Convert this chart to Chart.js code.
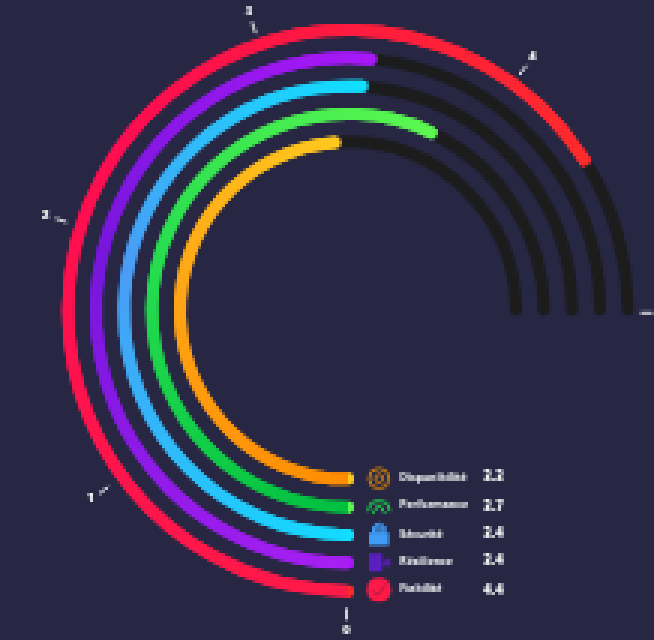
<!DOCTYPE html>
<html><head><meta charset="utf-8">
<style>html,body{margin:0;padding:0;background:#272643}body{width:654px;height:640px;overflow:hidden}
#w{position:absolute;left:0;top:0;width:654px;height:640px}
canvas{image-rendering:pixelated}</style>
<script src="https://cdn.jsdelivr.net/npm/chart.js@4"></script>
</head><body><div id="w"><canvas id="c"></canvas></div>
<script>
const categories = ["Fiabilité","Résilience","Sécurité","Performance","Disponibilité"];
const fillValues = [4.4,3.43,3.4,3.8,3.25];
const shownValues = ["4.4","3.4","3.4","3.7","3.3"];
const tickLabels = ["0","1","2","3","4","5"];
const axisMax = 5;
const sweep = 270;
const gradients = [
 ["#ff1a48","#ff0d50","#ff2b2b"],
 ["#a81ff4","#7716dc","#a818f8"],
 ["#12dcff","#4a9cf5","#10e0ff"],
 ["#00c040","#2adf50","#5cf850"],
 ["#ff8c00","#ffa515","#ffc81e"]
];
const iconColors = ["#ff1a48","#5b1fc0","#3f9bf5","#1fc24a","#c07a10"];
const track = "#1c1c1c";
const ringW = 12, gapW = 16, ink = "#ffffff";
const cx0 = 348, rOuter = 286;

function capDeg(i){ const r = rOuter - ringW/2 - i*(ringW+gapW); return (ringW/2/r)*180/Math.PI; }
const datasets = [];
categories.forEach((c,i)=>{
  const cap = capDeg(i), capUnits = 2*cap/(sweep/axisMax);
  const g = gradients[i];
  datasets.push({
    label:c,
    data:[fillValues[i]+capUnits, axisMax-fillValues[i]],
    rotation:180-cap,
    circumference:sweep+2*cap,
    weight:ringW,
    borderWidth:0,
    borderRadius:[ {outerStart:ringW/2,innerStart:ringW/2,outerEnd:ringW/2,innerEnd:ringW/2},
                   {outerStart:0,innerStart:0,outerEnd:ringW/2,innerEnd:ringW/2} ],
    backgroundColor(ctx){
      if(ctx.dataIndex===1) return track;
      const ch=ctx.chart, a=ch.chartArea; if(!a) return g[0];
      const x=(a.left+a.right)/2,y=(a.top+a.bottom)/2;
      const span=(fillValues[i]*sweep/axisMax)/360;
      const gr=ch.ctx.createConicGradient(Math.PI/2,x,y);
      gr.addColorStop(0,g[0]);gr.addColorStop(span*0.55,g[1]);gr.addColorStop(span,g[2]);gr.addColorStop(1,g[2]);
      return gr;
    }
  });
  if(i<categories.length-1) datasets.push({data:[1],weight:gapW,backgroundColor:"transparent",borderWidth:0,spacer:true});
});

function icon(ctx,i,x,y){
  ctx.save();ctx.fillStyle=iconColors[i];ctx.strokeStyle=iconColors[i];ctx.lineWidth=2.5;
  if(i===0){ctx.beginPath();ctx.arc(x,y-1,12,0,7);ctx.fill();ctx.strokeStyle="#a01840";ctx.lineWidth=2;ctx.beginPath();ctx.moveTo(x-6,y);ctx.lineTo(x-2,y+5);ctx.lineTo(x+7,y-6);ctx.stroke();}
  if(i===1){ctx.fillRect(x-10,y-9,13,18);ctx.fillRect(x+3,y-1.5,9,3);ctx.fillRect(x+7,y-4,3,8);}
  if(i===2){ctx.fillRect(x-10,y-2,20,13);ctx.lineWidth=3;ctx.beginPath();ctx.arc(x,y-5,5.5,Math.PI,0);ctx.stroke();ctx.strokeRect(x-5.5,y-6,11,4);}
  if(i===3){ctx.lineWidth=3;ctx.beginPath();ctx.arc(x,y+5,11,Math.PI,0);ctx.stroke();ctx.beginPath();ctx.moveTo(x-6,y+7);ctx.lineTo(x,y-2);ctx.lineTo(x+6,y+7);ctx.stroke();}
  if(i===4){ctx.lineWidth=3;ctx.beginPath();ctx.arc(x,y,10,0,7);ctx.stroke();ctx.beginPath();ctx.arc(x,y,4,0,7);ctx.stroke();}
  ctx.restore();
}

const overlay = {
  id:"overlay",
  afterDatasetsDraw(ch){
    const ctx=ch.ctx;
    ch.data.datasets.forEach((d,idx)=>{ if(!d.spacer) ch.getDatasetMeta(idx).data[0].draw(ctx); });
    const arc=ch.getDatasetMeta(0).data[0], cx=arc.x, cy=arc.y, R=arc.outerRadius;
    const tx=cx-1.5, ty=cy+3;
    ctx.save();
    ctx.strokeStyle="#f4f4f8";ctx.lineWidth=2.5;ctx.fillStyle=ink;
    ctx.textAlign="center";ctx.textBaseline="middle";
    tickLabels.forEach((t,k)=>{
      const a=(180+k*sweep/axisMax)*Math.PI/180, s=Math.sin(a), c=-Math.cos(a);
      ctx.beginPath();ctx.moveTo(tx+s*(R+8),ty+c*(R+8));ctx.lineTo(tx+s*(R+20),ty+c*(R+20));ctx.stroke();
      ctx.font="800 12.5px 'Open Sans'";
      ctx.fillText(t,tx+s*(R+30),ty+c*(R+30));
    });
    categories.forEach((name,i)=>{
      const r=arc.outerRadius-ringW/2-i*(ringW+gapW), y=cy+r-0.5;
      icon(ctx,i,379,y);
      ctx.fillStyle=ink;ctx.textAlign="left";ctx.font="bold 10.5px 'Open Sans'";
      ctx.fillText(name,400,y);
      ctx.font="800 13px 'Open Sans'";
      ctx.fillText(shownValues[i],484,y);
    });
    ctx.restore();
  }
};

new Chart(document.getElementById("c"),{
  type:"doughnut",
  data:{labels:["valeur","reste"],datasets},
  options:{
    responsive:true,maintainAspectRatio:false,animation:false,devicePixelRatio:1/3,
    cutout:rOuter-5*ringW-4*gapW,
    layout:{padding:{left:cx0-rOuter,right:654-cx0-rOuter,top:24,bottom:640-24-2*rOuter}},
    plugins:{legend:{display:false},tooltip:{enabled:false}}
  },
  plugins:[overlay]
});
</script></body></html>
